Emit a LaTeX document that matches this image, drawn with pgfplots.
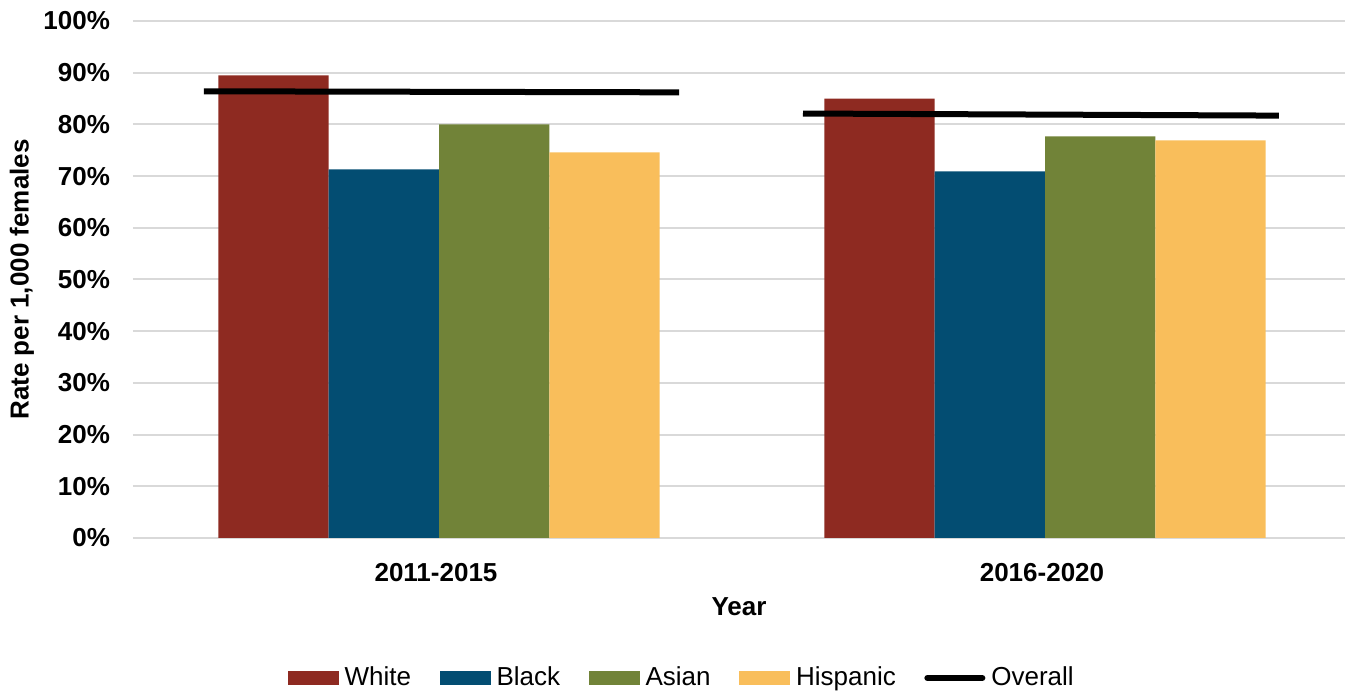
\documentclass[border=0pt]{standalone}
\usepackage{fontspec}
\setmainfont{Liberation Sans}
\usepackage{pgfplots}
\pgfplotsset{compat=1.18}
\definecolor{cWhite}{HTML}{8E2A21}
\definecolor{cBlack}{HTML}{034D72}
\definecolor{cAsian}{HTML}{718338}
\definecolor{cHisp}{HTML}{F9BE5B}
\definecolor{cGrid}{HTML}{D9D9D9}
\begin{document}
\begin{tikzpicture}
\begin{axis}[
 at={(0,0)}, anchor=south west,
 scale only axis, width=606pt, height=258.5pt,
 xmin=-0.5, xmax=1.5, ymin=0, ymax=100,
 axis line style={draw=none},
 ytick={0,10,...,100},
 xtick={0,1}, xticklabels={2011-2015,2016-2020},
 major tick length=0pt,
 ymajorgrids, grid style={cGrid, line width=1pt},
 yticklabel={\pgfmathprintnumber{\tick}\%},
 /pgf/number format/assume math mode=true,
 ticklabel style={font=\fontsize{13}{15}\selectfont\bfseries},
 yticklabel style={xshift=-8pt},
 xticklabel style={yshift=-9pt},
 xlabel={Year}, ylabel={Rate per 1,000 females},
 every axis x label/.style={at={(axis description cs:0.5,0)}, yshift=-34.5pt, anchor=center, font=\fontsize{13}{15}\selectfont\bfseries},
 every axis y label/.style={at={(axis description cs:0,0.5)}, xshift=-55.5pt, rotate=90, anchor=center, font=\fontsize{13}{15}\selectfont\bfseries},
 legend columns=5,
 legend style={draw=none, at={(axis description cs:0.4535,0)}, anchor=center, yshift=-70pt,
   font=\fontsize{13}{15}\selectfont,
   /tikz/every odd column/.append style={column sep=1pt},
   /tikz/every even column/.append style={column sep=12.25pt}},
]
\addplot[ybar, bar width=0.182, bar shift=-0.268, fill=cWhite, draw=none,
  legend image code/.code={\fill[cWhite] (0pt,-3.65pt) rectangle (25.5pt,3.65pt);}]
  coordinates {(0,89.5) (1,85.0)};
\addplot[ybar, bar width=0.182, bar shift=-0.086, fill=cBlack, draw=none,
  legend image code/.code={\fill[cBlack] (0pt,-3.65pt) rectangle (25.5pt,3.65pt);}]
  coordinates {(0,71.3) (1,70.9)};
\addplot[ybar, bar width=0.182, bar shift=0.096, fill=cAsian, draw=none,
  legend image code/.code={\fill[cAsian] (0pt,-3.65pt) rectangle (25.5pt,3.65pt);}]
  coordinates {(0,80.0) (1,77.7)};
\addplot[ybar, bar width=0.182, bar shift=0.278, fill=cHisp, draw=none,
  legend image code/.code={\fill[cHisp] (0pt,-3.65pt) rectangle (25.5pt,3.65pt);}]
  coordinates {(0,74.6) (1,76.9)};
\addplot[black, line width=3pt, mark=none,
  legend image code/.code={\draw[black, line width=3pt, line cap=round] (0pt,0pt) -- (27.5pt,0pt);}]
  coordinates {(-0.383,86.4) (0.401,86.2)};
\addplot[black, line width=3pt, mark=none, forget plot]
  coordinates {(0.6056,82.1) (1.391,81.7)};
\legend{White,Black,Asian,Hispanic,Overall}
\end{axis}
\pgfresetboundingbox
\path (-66.5pt,-78pt) rectangle (608.5pt,269pt);
\end{tikzpicture}
\end{document}
